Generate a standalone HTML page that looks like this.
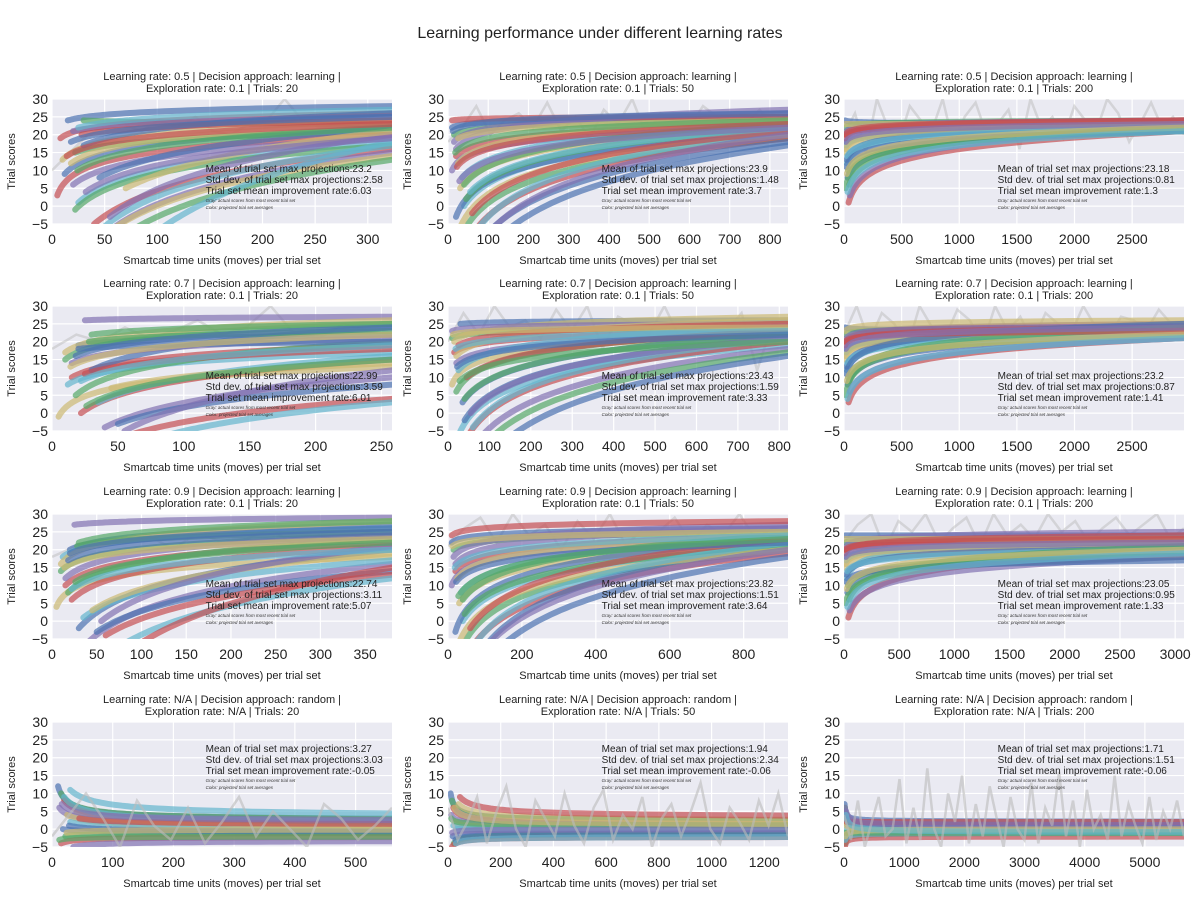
<!DOCTYPE html>
<html><head><meta charset="utf-8">
<style>
body{margin:0;background:#fff;}
svg{display:block;font-family:"Liberation Sans",Arial,sans-serif;}
</style></head>
<body>
<svg id="chart" width="1200" height="900" viewBox="0 0 1200 900">
<text x="600" y="38" text-anchor="middle" font-size="16" fill="#222">Learning performance under different learning rates</text>
</svg>
<script>
// ---- data ----
const panelTitles1 = ["Learning rate: 0.5 | Decision approach: learning |","Learning rate: 0.5 | Decision approach: learning |","Learning rate: 0.5 | Decision approach: learning |",
"Learning rate: 0.7 | Decision approach: learning |","Learning rate: 0.7 | Decision approach: learning |","Learning rate: 0.7 | Decision approach: learning |",
"Learning rate: 0.9 | Decision approach: learning |","Learning rate: 0.9 | Decision approach: learning |","Learning rate: 0.9 | Decision approach: learning |",
"Learning rate: N/A | Decision approach: random |","Learning rate: N/A | Decision approach: random |","Learning rate: N/A | Decision approach: random |"];
const panelTitles2 = ["Exploration rate: 0.1 | Trials: 20","Exploration rate: 0.1 | Trials: 50","Exploration rate: 0.1 | Trials: 200",
"Exploration rate: 0.1 | Trials: 20","Exploration rate: 0.1 | Trials: 50","Exploration rate: 0.1 | Trials: 200",
"Exploration rate: 0.1 | Trials: 20","Exploration rate: 0.1 | Trials: 50","Exploration rate: 0.1 | Trials: 200",
"Exploration rate: N/A | Trials: 20","Exploration rate: N/A | Trials: 50","Exploration rate: N/A | Trials: 200"];
const xMaxes = [323,845,2950, 258,821,2950, 380,920,3080, 560,1290,5650];
const xTickSteps = [50,100,500, 50,100,500, 50,200,500, 100,200,1000];
const yTicks = [-5,0,5,10,15,20,25,30];
const statMeans = ["23.2","23.9","23.18","22.99","23.43","23.2","22.74","23.82","23.05","3.27","1.94","1.71"];
const statStds = ["2.58","1.48","0.81","3.59","1.59","0.87","3.11","1.51","0.95","3.03","2.34","1.51"];
const statRates = ["6.03","3.7","1.3","6.01","3.33","1.41","5.07","3.64","1.33","-0.05","-0.06","-0.06"];
// curve start x, start y, end y (per panel)
const curveX0 = [
 [15,30,8,20,10,25,12,22,5,20,18,25,30,22,40,50,60,35,45,80,28,55,70,100,18,24,14,32],
 [10,15,20,10,30,40,20,50,60,15,25,35,80,45,10,20,30,70,100,40,60,90,25,55,12,18,22,28],
 [10,10,15,20,10,25,30,15,40,20,12,18,22,35,10,50,15,28,20,45,12,16,24,30],
 [20,10,15,25,5,12,30,18,22,40,10,35,50,28,60,15,45,70,20,30,25,55,14,22,18,26],
 [30,10,15,20,10,30,40,20,50,70,15,25,35,80,45,10,20,60,100,40,25,55,12,18,22,28],
 [10,10,15,20,10,25,30,15,40,20,12,18,22,35,10,50,15,28,20,45,12,16,24,30],
 [20,10,15,25,5,12,30,18,22,40,10,35,50,28,60,15,45,70,20,30,100,55,14,22,18,26],
 [10,15,20,10,30,40,20,50,60,15,25,35,80,45,10,20,30,70,100,40,60,90,12,18,22,28],
 [10,10,15,20,10,25,30,15,40,20,12,18,22,35,10,50,15,28,20,45,12,16,24,30],
 [10,15,20,12,25,30,18,22,15,35,40,20,28,12,45,16,24,30],
 [10,15,20,12,25,30,18,22,15,35,40,20,28,12,45,16,24,30],
 [10,15,20,12,25,30,18,22,15,35,40,20,28,12,45,16,24,30]];
const curveY0 = [
 [24,24,19,21,13,22,9,15,3,6,12,1,17,-1,-5,-8,-6,-10,8,-6,20,-3,5,-7,18,10,14,4],
 [22,20,14,10,5,0,-3,-5,-8,18,12,8,-10,2,24,16,-6,-7,-12,6,-2,-9,19,4,21,15,11,7],
 [24,22,20,18,15,12,8,5,1,21,23,17,13,10,19,3,16,14,11,6,20,18,9,4],
 [19,15,10,26,-1,8,12,5,0,-4,17,3,-3,20,-6,14,7,-8,18,22,11,-5,13,9,16,2],
 [25,21,17,14,8,-5,-2,6,-6,-8,20,12,3,-10,10,23,16,-4,-12,4,19,0,22,18,13,9],
 [24,22,20,18,15,12,8,5,3,21,23,17,13,10,19,6,16,14,11,9,20,18,9,4],
 [20,14,10,27,4,18,-2,8,6,-6,16,1,-3,21,-4,12,3,-8,19,22,-6,0,15,9,17,11],
 [22,20,14,10,5,0,-3,-5,-8,18,12,8,-10,2,24,16,-6,-7,-12,6,-2,-9,21,15,11,7],
 [24,22,20,18,15,12,8,5,1,21,23,17,13,10,19,3,16,14,11,6,20,18,9,4],
 [12,10,8,6,4,2,0,-2,-4,-5,5,9,1,-3,3,7,-1,11],
 [10,8,6,4,2,0,-2,-4,-5,5,7,1,-3,3,9,-1,6,-4],
 [7,6,4,3,2,0,-2,-4,-5,5,1,-3,3,-1,2,6,-2,4]];
const curveY1 = [
 [28,23,26,25,24,27,22,21,20,19,23,18,26,17,16,15,14,17,22,13,24,20,21,18,25,22,23,19],
 [25,24,23,22,22,21,20,19,19,26,24,23,18,22,25,27,20,21,17,23,21,20,24,22,26,24,23,22],
 [23,24,23,22,22,23,21,22,21,24,23,22,23,21,24,22,23,22,21,22,24,23,22,21],
 [22,25,19,27,13,17,24,20,15,10,26,16,8,23,4,21,14,3,20,25,18,12,22,19,24,15],
 [26,24,23,22,22,19,21,23,20,18,27,24,22,17,23,25,26,21,16,22,25,21,24,23,22,20],
 [23,24,25,22,23,24,22,23,21,25,26,23,24,22,24,21,23,22,25,24,23,24,22,21],
 [27,24,22,29,18,26,20,23,21,16,28,17,14,25,13,24,19,12,26,28,15,21,23,20,25,22],
 [26,25,24,23,22,21,23,20,19,27,24,23,22,21,28,26,20,22,18,24,23,20,25,24,22,23],
 [24,23,22,21,20,24,19,18,20,25,23,22,21,19,24,18,22,20,17,21,23,22,20,19],
 [2,2,1,1,0,0,-1,-1,-2,-3,0,1,-1,-2,1,2,0,3],
 [2,2,1,1,0,0,-1,-1,-2,1,2,0,-1,1,3,0,1,-2],
 [2,1,1,0,0,0,-1,-1,-2,1,0,-1,1,-1,2,1,0,-1]];
// gray: actual scores of most recent trial set
const grayScores = [
 [10,15,20,22,23,21,24,22,25,21,20,23,24,30,24,22,23,22,21,22],
 [18,22,28,20,24,26,22,29,21,25,19,27,23,30,20,26,24,22,28,25,21,23,27,22,24],
 [20,26,15,30,22,18,28,24,21,30,17,25,29,20,23,27,16,30,22,25,19,28,24,21,30,26,18,23,29,22,25,20],
 [18,22,20,24,21,23,26,22,24,30,22,21,25,23,22],
 [20,28,22,30,24,26,21,29,23,30,18,27,25,22,30,21,24,26,23,28,12,25,24],
 [22,30,20,28,25,18,30,24,21,29,26,19,30,23,27,20,28,25,22,30,24,21,27,26,23,29,25,22],
 [18,21,23,22,24,20,25,22,23,26,21,24,22,25,23],
 [21,26,29,22,30,24,27,20,28,23,30,21,26,25,29,22,27,24,30,23,26,25],
 [22,27,30,20,28,25,30,22,26,29,21,30,24,27,23,30,25,28,22,26,29,24,27,30,23,26],
 [-2,4,10,3,-5,8,1,-3,6,-4,2,9,-2,5,0,-5,7,3,-3,1,6],
 [6,-3,2,9,-4,5,12,0,-5,8,3,-2,10,1,-4,6,11,-3,4,0,9,-5,3,7,-2,5,13,0,-4,6,2,-3,8,1,10,-2],
 [4,-3,8,-5,2,9,-2,0,14,-4,6,-3,17,0,-5,10,2,15,-4,7,-2,12,3,-5,9,0,-3,13,-4,6,1,16,-2,8,-5,11,0,4,-3,15,-2,7,1,-4,9,-3,5,0,8,-2]];
const palette = ["#4C72B0","#55A868","#C44E52","#8172B2","#CCB974","#64B5CD"];

// ---- layout ----
const colL = [52,448,844], plotW = 340;
const rowT = [99,306,514,722], plotH = 125;
const yMin=-5, yMax=30;
const NS="http://www.w3.org/2000/svg";
const svg=document.getElementById('chart');
function mk(tag,attrs,parent){const e=document.createElementNS(NS,tag);for(const k in attrs)e.setAttribute(k,attrs[k]);(parent||svg).appendChild(e);return e;}

for(let p=0;p<12;p++){
  const r=Math.floor(p/3), c=p%3;
  const L=colL[c], T=rowT[r], xmax=xMaxes[p];
  const xs=v=>L+v/xmax*plotW;
  const ys=v=>T+(yMax-v)/(yMax-yMin)*plotH;
  const g=mk('g',{});
  
  
  const bg=mk('rect',{x:L,y:T,width:plotW,height:plotH,fill:'#EAEAF2'},g);
  
  
  const cp=mk('clipPath',{id:'clip'+p},g);
  mk('rect',{x:L,y:T,width:plotW,height:plotH},cp);
  for(const t of yTicks){
    const gl=mk('line',{x1:L,x2:L+plotW,y1:ys(t),y2:ys(t),stroke:'#fff','stroke-width':1.2},g);
    
    
    const tl=mk('text',{x:L-4,y:ys(t)+5,'text-anchor':'end','font-size':14,fill:'#222'},g);
    tl.textContent=t<0?'\u2212'+(-t):String(t);
    
    
  }
  for(let t=0;t<=xmax;t+=xTickSteps[p]){
    const gl=mk('line',{x1:xs(t),x2:xs(t),y1:T,y2:T+plotH,stroke:'#fff','stroke-width':1.2},g);
    
    
    const tl=mk('text',{x:xs(t),y:T+plotH+20,'text-anchor':'middle','font-size':14,fill:'#222'},g);
    tl.textContent=String(t);
    
    
  }
  const cg=mk('g',{'clip-path':'url(#clip'+p+')'},g);
  const isRandom = r===3;
  // gray actual scores (behind for learning panels)
  const gs=grayScores[p];
  let gd='';
  gs.forEach((v,i)=>{gd+=(i?'L':'M')+xs(i*xmax/(gs.length-1)).toFixed(1)+','+ys(v).toFixed(1);});
  const drawGray=()=>{
    const gp=mk('path',{d:gd,fill:'none',stroke:'#bbb','stroke-width':2.5,'stroke-opacity':isRandom?0.6:0.5},cg);
    
    
  };
  if(!isRandom) drawGray();
  const x0s=curveX0[p], y0s=curveY0[p], y1s=curveY1[p];
  for(let i=0;i<x0s.length;i++){
    const x0=x0s[i], lg=Math.log(xmax/x0);
    let d='';
    for(let k=0;k<=50;k++){
      const x=x0*Math.exp(lg*k/50);
      let y;
      if(isRandom){ y=y1s[i]+(y0s[i]-y1s[i])*Math.pow(x0/x,0.6); }
      else { y=y0s[i]+(y1s[i]-y0s[i])*Math.log(x/x0)/lg; }
      d+=(k?'L':'M')+xs(x).toFixed(1)+','+ys(y).toFixed(1);
    }
    const pth=mk('path',{d:d,fill:'none',stroke:palette[i%6],'stroke-width':6,'stroke-opacity':0.7,'stroke-linecap':'round'},cg);
    
    
  }
  if(isRandom) drawGray();
  const t1=mk('text',{x:L+plotW/2,y:T-19,'text-anchor':'middle','font-size':11,fill:'#222'},g);
  t1.textContent=panelTitles1[p];
  
  
  const t2=mk('text',{x:L+plotW/2,y:T-7,'text-anchor':'middle','font-size':11,fill:'#222'},g);
  t2.textContent=panelTitles2[p];
  
  
  const xl=mk('text',{x:L+plotW/2,y:T+plotH+40,'text-anchor':'middle','font-size':11,fill:'#222'},g);
  xl.textContent='Smartcab time units (moves) per trial set';
  
  
  const yl=mk('text',{x:0,y:0,'text-anchor':'middle','font-size':11,fill:'#222',transform:'translate('+(L-37)+','+(T+plotH/2)+') rotate(-90)'},g);
  yl.textContent='Trial scores';
  
  
  const sx=L+plotW*0.452, sy=(r===3)?T+30:T+73;
  const lines=['Mean of trial set max projections:'+statMeans[p],'Std dev. of trial set max projections:'+statStds[p],'Trial set mean improvement rate:'+statRates[p]];
  lines.forEach((s,i)=>{
    const st=mk('text',{x:sx,y:sy+i*11,'font-size':10,fill:'#222'},g);
    st.textContent=s;
    
    
  });
  const n1=mk('text',{x:sx,y:sy+30,'font-size':4.5,'font-style':'italic',fill:'#333'},g);
  n1.textContent='Gray: actual scores from most recent trial set';
  
  
  const n2=mk('text',{x:sx,y:sy+37,'font-size':4.5,'font-style':'italic',fill:'#333'},g);
  n2.textContent='Color: projected trial set averages';
  
  
}
</script>
</body></html>
